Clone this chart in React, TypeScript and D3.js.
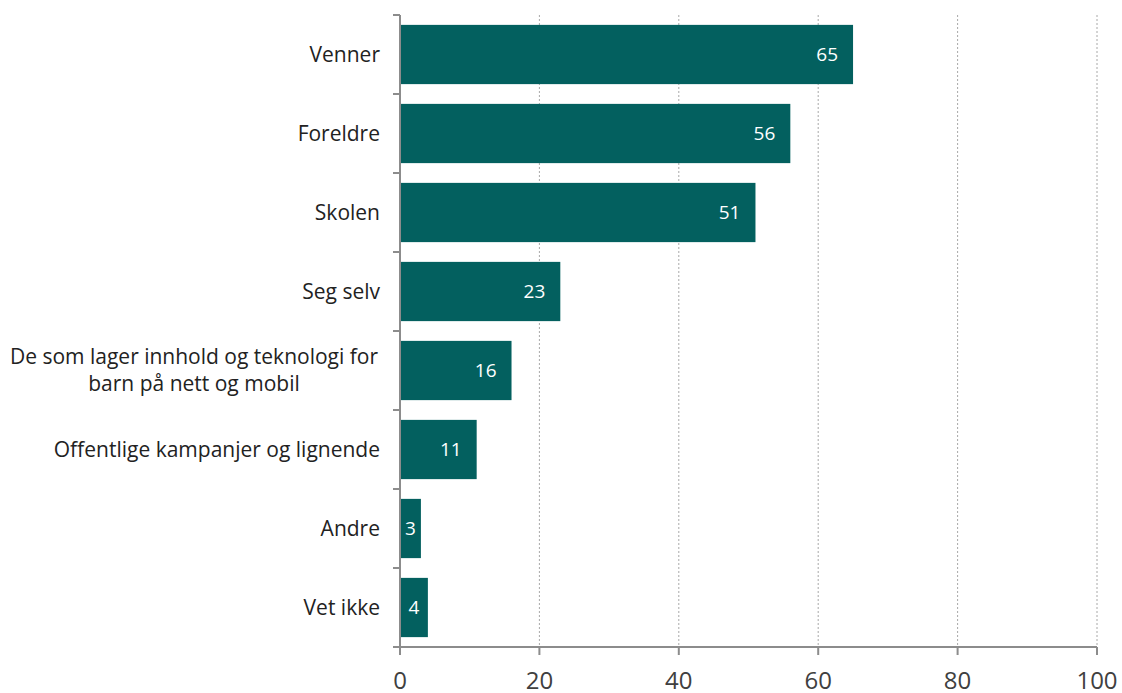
import React, { useEffect, useRef } from "react";
import * as d3 from "d3";

const categories = [
  ["Venner"],
  ["Foreldre"],
  ["Skolen"],
  ["Seg selv"],
  ["De som lager innhold og teknologi for", "barn på nett og mobil"],
  ["Offentlige kampanjer og lignende"],
  ["Andre"],
  ["Vet ikke"],
];
const values = [65, 56, 51, 23, 16, 11, 3, 4];
const xTicks = [0, 20, 40, 60, 80, 100];

const W = 1122;
const H = 693;
const FONT = "'Open Sans', Lato, sans-serif";

export default function App() {
  const ref = useRef<SVGSVGElement>(null);

  useEffect(() => {
    document.body.style.margin = "0";
    if (!ref.current) return;
    const svg = d3.select(ref.current);
    svg.selectAll("*").remove();

    const left = 400, right = 1097, top = 15, bottom = 647;
    const x = d3.scaleLinear().domain([0, 100]).range([left, right]);
    const keys = categories.map((c, i) => String(i));
    const y = d3.scaleBand().domain(keys).range([top, bottom]).paddingInner(0.25).paddingOuter(0.125);

    // gridlines
    svg.append("g")
      .selectAll("line")
      .data(xTicks.slice(1))
      .join("line")
      .attr("x1", (d) => x(d)).attr("x2", (d) => x(d))
      .attr("y1", top).attr("y2", bottom)
      .attr("stroke", "#a8a8a8")
      .attr("stroke-dasharray", "2,2")
      .attr("stroke-width", 1);

    // bars
    svg.append("g")
      .selectAll("rect")
      .data(values)
      .join("rect")
      .attr("x", x(0))
      .attr("y", (_, i) => y(String(i))!)
      .attr("width", (d) => x(d) - x(0))
      .attr("height", y.bandwidth())
      .attr("fill", "#03605f");

    // value labels
    svg.append("g")
      .selectAll("text")
      .data(values)
      .join("text")
      .attr("x", (d) => (x(d) - x(0) < 40 ? (x(d) + x(0)) / 2 : x(d) - 15))
      .attr("y", (_, i) => y(String(i))! + y.bandwidth() / 2)
      .attr("dy", "0.35em")
      .attr("text-anchor", (d) => (x(d) - x(0) < 40 ? "middle" : "end"))
      .attr("fill", "#ffffff")
      .attr("font-family", FONT)
      .attr("font-size", 19)
      .text((d) => d);

    // y axis line + ticks
    const step = y.step();
    svg.append("line")
      .attr("x1", left).attr("x2", left)
      .attr("y1", top).attr("y2", bottom)
      .attr("stroke", "#8c8c8c").attr("stroke-width", 2);
    svg.append("g")
      .selectAll("line")
      .data(d3.range(categories.length + 1))
      .join("line")
      .attr("x1", left - 7).attr("x2", left)
      .attr("y1", (i) => top + i * step).attr("y2", (i) => top + i * step)
      .attr("stroke", "#8c8c8c").attr("stroke-width", 2);

    // x axis line + ticks
    svg.append("line")
      .attr("x1", left).attr("x2", right)
      .attr("y1", bottom).attr("y2", bottom)
      .attr("stroke", "#8c8c8c").attr("stroke-width", 2);
    svg.append("g")
      .selectAll("line")
      .data(xTicks)
      .join("line")
      .attr("x1", (d) => x(d)).attr("x2", (d) => x(d))
      .attr("y1", bottom).attr("y2", bottom + 8)
      .attr("stroke", "#8c8c8c").attr("stroke-width", 2);
    svg.append("g")
      .selectAll("text")
      .data(xTicks)
      .join("text")
      .attr("x", (d) => x(d))
      .attr("y", 681)
      .attr("dy", "0.35em")
      .attr("text-anchor", "middle")
      .attr("fill", "#404040")
      .attr("font-family", FONT)
      .attr("font-size", 24)
      .text((d) => d);

    // category labels
    const lab = svg.append("g")
      .selectAll("text")
      .data(categories)
      .join("text")
      .attr("fill", "#222222")
      .attr("font-family", FONT)
      .attr("font-size", 21);
    lab.each(function (lines, i) {
      const cy = y(String(i))! + y.bandwidth() / 2;
      const t = d3.select(this);
      lines.forEach((l, j) => {
        t.append("tspan")
          .attr("x", lines.length > 1 ? 194 : 380)
          .attr("y", cy + (j - (lines.length - 1) / 2) * 27)
          .attr("dy", "0.35em")
          .attr("text-anchor", lines.length > 1 ? "middle" : "end")
          .text(l);
      });
    });
  }, []);

  return <svg ref={ref} width={W} height={H} style={{ display: "block" }} />;
}
